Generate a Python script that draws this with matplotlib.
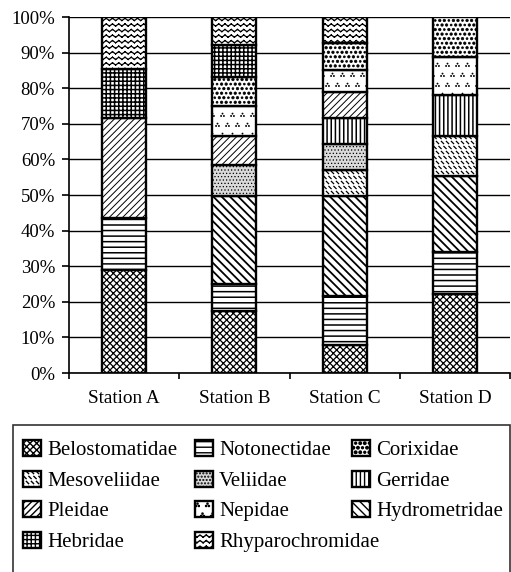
import warnings
import numpy as np
import matplotlib
matplotlib.use("Agg")
import matplotlib.pyplot as plt
from matplotlib import hatch as mhatch
from matplotlib.path import Path
from matplotlib.patches import Rectangle
from matplotlib.ticker import FixedLocator

warnings.filterwarnings("ignore")

# ---------------- data (percent of individuals per station) ----------------
stations = ["Station A", "Station B", "Station C", "Station D"]
families = ["Belostomatidae", "Notonectidae", "Hydrometridae", "Mesoveliidae",
            "Veliidae", "Gerridae", "Pleidae", "Nepidae", "Corixidae",
            "Hebridae", "Rhyparochromidae"]
belostomatidae = [29.0, 17.4, 7.8, 22.1]
notonectidae = [14.5, 7.7, 13.8, 11.8]
hydrometridae = [0.0, 24.7, 28.1, 21.5]
mesoveliidae = [0.0, 0.0, 7.3, 11.2]
veliidae = [0.0, 8.6, 7.4, 0.0]
gerridae = [0.0, 0.0, 7.2, 11.5]
pleidae = [28.0, 8.2, 7.2, 0.0]
nepidae = [0.0, 8.4, 6.4, 10.8]
corixidae = [0.0, 8.1, 7.5, 11.1]
hebridae = [14.0, 9.1, 0.0, 0.0]
rhyparochromidae = [14.5, 7.8, 7.3, 0.0]
series = [belostomatidae, notonectidae, hydrometridae, mesoveliidae, veliidae,
          gerridae, pleidae, nepidae, corixidae, hebridae, rhyparochromidae]
yticks = [0, 10, 20, 30, 40, 50, 60, 70, 80, 90, 100]
ytick_labels = ["0%", "10%", "20%", "30%", "40%", "50%", "60%", "70%",
                "80%", "90%", "100%"]
legend_columns = [["Belostomatidae", "Mesoveliidae", "Pleidae", "Hebridae"],
                  ["Notonectidae", "Veliidae", "Nepidae", "Rhyparochromidae"],
                  ["Corixidae", "Gerridae", "Hydrometridae"]]


# ---------------- custom hatch patterns ----------------
def _octagon(cx, cy, r):
    ang = np.linspace(0, 2 * np.pi, 9)[:-1]
    v = [(cx + r * np.cos(a), cy + r * np.sin(a)) for a in ang] + [(cx, cy)]
    c = [Path.MOVETO] + [Path.LINETO] * 7 + [Path.CLOSEPOLY]
    return v, c


class _CustomHatch(mhatch.HatchPatternBase):
    char = "?"

    def __init__(self, hatch, density):
        if hatch.count(self.char):
            v, c = self.build()
            self.verts = np.asarray(v, float)
            self.codes_ = np.asarray(c, dtype=Path.code_type)
            self.num_vertices = len(self.verts)
        else:
            self.num_vertices = 0

    def set_vertices_and_codes(self, vertices, codes):
        vertices[:] = self.verts
        codes[:] = self.codes_


class ZigZag(_CustomHatch):
    char = "z"

    def build(self):
        v, c = [], []
        rows, halves, a = 18, 32, 0.011
        for i in range(rows):
            y = (i + 0.5) / rows
            for k in range(halves):
                s = 1 if k % 2 == 0 else -1
                v += [(k / halves, y + s * a), ((k + 1) / halves, y - s * a)]
                c += [Path.MOVETO, Path.LINETO]
        return v, c


class Dashes(_CustomHatch):
    char = "m"

    def build(self):
        v, c = [], []
        n, d = 20, 0.011
        for j in range(n):
            for i in range(n):
                x = (i + 0.5 * (j % 2)) / n
                y = (j + 0.5) / n
                v += [(x - d, y + d), (x + d, y - d)]
                c += [Path.MOVETO, Path.LINETO]
        return v, c


class Triads(_CustomHatch):
    char = "n"

    def build(self):
        v, c = [], []
        n, r, s = 10, 0.006, 0.014
        for j in range(n):
            for i in range(n):
                x = (i + 0.5 * (j % 2) + 0.25) / n
                y = (j + 0.5) / n
                for dx, dy in [(0, s), (-s, -s * 0.7), (s, -s * 0.7)]:
                    pv, pc = _octagon(x + dx, y + dy, r)
                    v += pv
                    c += pc
        return v, c


class Blobs(_CustomHatch):
    char = "c"

    def build(self):
        v, c = [], []
        n = 22
        for j in range(n):
            for i in range(n):
                x = (i + 0.5 * (j % 2) + 0.25) / n
                y = (j + 0.5) / n
                r = 0.013 if (i + j) % 3 else 0.010
                pv, pc = _octagon(x, y, r)
                v += pv
                c += pc
        return v, c


mhatch._hatch_types = list(mhatch._hatch_types) + [ZigZag, Dashes, Triads, Blobs]

styles = {
    "Belostomatidae": dict(hatch="xxxxx", face="white", hlw=0.9),
    "Notonectidae": dict(hatch="---", face="white", hlw=1.1),
    "Hydrometridae": dict(hatch="\\\\\\\\", face="white", hlw=1.3),
    "Mesoveliidae": dict(hatch="m", face="white", hlw=0.9),
    "Veliidae": dict(hatch=".....", face="#dadada", hlw=0.5),
    "Gerridae": dict(hatch="||||", face="white", hlw=1.1),
    "Pleidae": dict(hatch="/////", face="white", hlw=0.7),
    "Nepidae": dict(hatch="n", face="white", hlw=0.5),
    "Corixidae": dict(hatch="c", face="white", hlw=0.5),
    "Hebridae": dict(hatch="++++", face="white", hlw=1.1),
    "Rhyparochromidae": dict(hatch="z", face="white", hlw=0.9),
}

# ---------------- figure ----------------
plt.rcParams["font.family"] = ["Liberation Serif", "DejaVu Serif"]
W, H = 511, 572
fig = plt.figure(figsize=(W / 100, H / 100), dpi=100)
ax = fig.add_axes([69 / W, 1 - 373 / H, (510 - 69) / W, (373 - 17) / H])

x = np.arange(len(stations)) + 0.5
bottom = np.zeros(len(stations))
handles = {}
for name, vals in zip(families, series):
    st = styles[name]
    with plt.rc_context({"hatch.linewidth": st["hlw"]}):
        cont = ax.bar(x, vals, width=0.4, bottom=bottom, color=st["face"],
                      edgecolor="black", linewidth=1.7, hatch=st["hatch"],
                      zorder=3, label=name)
    first = None
    for p, h in zip(cont.patches, vals):
        if hasattr(p, "set_hatch_linewidth"):
            p.set_hatch_linewidth(st["hlw"])
        if h <= 0:
            p.set_visible(False)
        elif first is None:
            first = p
    handles[name] = first
    bottom += np.asarray(vals)

ax.set_xlim(0, len(stations))
ax.set_ylim(0, 100)
ax.set_yticks(yticks)
ax.set_yticklabels(ytick_labels)
ax.xaxis.set_major_locator(FixedLocator(np.arange(len(stations) + 1)))
ax.set_xticklabels([])
ax.set_xticks(x, minor=True)
ax.set_xticklabels(stations, minor=True)
ax.tick_params(axis="x", which="major", direction="out", length=4.5, width=1.2,
               color="black")
ax.tick_params(axis="x", which="minor", length=0, pad=12, labelsize=13.8)
ax.tick_params(axis="y", direction="out", length=5, width=1.2, pad=5,
               labelsize=13.5)
ax.grid(axis="y", color="black", linewidth=1.0, zorder=0)
ax.set_axisbelow(True)
for s in ["top", "right"]:
    ax.spines[s].set_visible(False)
for s in ["left", "bottom"]:
    ax.spines[s].set_linewidth(1.2)

# ---------------- legend ----------------
fig.patches.append(Rectangle((13 / W, -0.1), (510 - 13) / W, 0.1 + 1 - 425 / H,
                             transform=fig.transFigure, facecolor="none",
                             edgecolor="#333333", linewidth=1.2))
col_x = [23, 195, 352]
for cx, names in zip(col_x, legend_columns):
    hs = [handles[n] for n in names]
    leg = fig.legend(hs, names, loc="upper left",
                     bbox_to_anchor=(cx / W, 1 - 440 / H),
                     frameon=False, fontsize=15, borderpad=0,
                     borderaxespad=0, handlelength=0.85, handleheight=0.8,
                     handletextpad=0.3, labelspacing=0.5)

fig.savefig("out.png", dpi=100)
